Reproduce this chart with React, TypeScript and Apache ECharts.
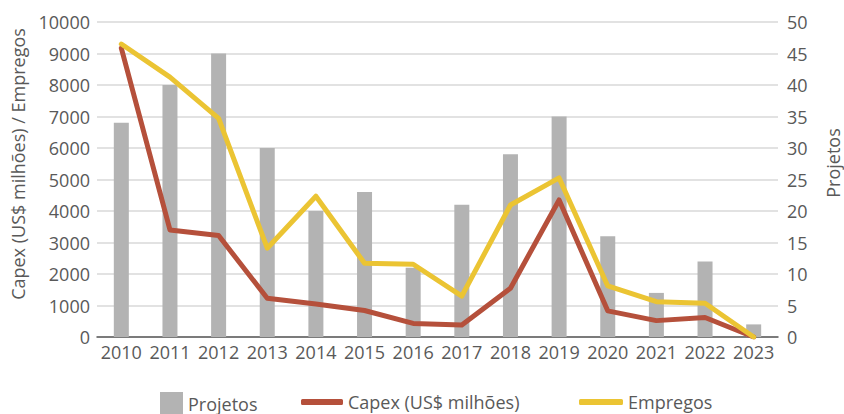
import React, { useEffect, useRef } from "react";
import * as echarts from "echarts";

const years = ["2010","2011","2012","2013","2014","2015","2016","2017","2018","2019","2020","2021","2022","2023"];
const projetos = [34, 40, 45, 30, 20, 23, 11, 21, 29, 35, 16, 7, 12, 2];
const capex = [9170, 3400, 3220, 1230, 1050, 840, 430, 380, 1550, 4350, 830, 520, 620, 0];
const empregos = [9300, 8250, 6940, 2820, 4470, 2340, 2310, 1300, 4190, 5050, 1620, 1120, 1070, 0];

const FONT = "'Open Sans', 'Noto Sans', sans-serif";
const TEXT = "#595959";
const FS = 18;

export default function App() {
  const ref = useRef<HTMLDivElement>(null);
  useEffect(() => {
    if (!ref.current) return;
    const chart = echarts.init(ref.current, null, { renderer: "svg" });
    const legendText = { fontFamily: FONT, fontSize: FS, color: TEXT };
    chart.setOption({
      animation: false,
      textStyle: { fontFamily: FONT, color: TEXT },
      grid: { left: 97, right: 66, top: 22, bottom: 77 },
      legend: [
        {
          data: [{ name: "Projetos", icon: "rect" }],
          left: 160,
          top: 392,
          padding: 0,
          itemWidth: 23,
          itemHeight: 23,
          itemGap: 7,
          textStyle: legendText,
        },
        {
          data: [{ name: "Capex (US$ milhões)", icon: "roundRect" }],
          left: 301,
          top: 393,
          padding: 0,
          itemWidth: 42,
          itemHeight: 6,
          textStyle: legendText,
        },
        {
          data: [{ name: "Empregos", icon: "roundRect" }],
          left: 579,
          top: 393,
          padding: 0,
          itemWidth: 44,
          itemHeight: 6,
          textStyle: legendText,
        },
      ],
      xAxis: {
        type: "category",
        data: years,
        axisTick: { show: false },
        axisLine: { lineStyle: { color: "#595959", width: 1.5 } },
        axisLabel: { fontSize: FS, color: TEXT, fontFamily: FONT, margin: 6, interval: 0 },
      },
      yAxis: [
        {
          type: "value",
          min: 0,
          max: 10000,
          interval: 1000,
          axisLabel: {
            fontSize: FS,
            color: TEXT,
            fontFamily: FONT,
            margin: 7,
            formatter: (v: number) => String(v),
          },
          splitLine: { lineStyle: { color: "#d9d9d9", width: 1.5 } },
          axisLine: { show: false },
          axisTick: { show: false },
        },
        {
          type: "value",
          min: 0,
          max: 50,
          interval: 5,
          axisLabel: { fontSize: FS, color: TEXT, fontFamily: FONT, margin: 9 },
          splitLine: { show: false },
          axisLine: { show: false },
          axisTick: { show: false },
        },
      ],
      graphic: [
        {
          type: "text",
          x: 18,
          y: 164,
          rotation: Math.PI / 2,
          style: {
            text: "Capex (US$ milhões) / Empregos",
            fontFamily: FONT,
            fontSize: FS,
            fill: TEXT,
            align: "center",
            verticalAlign: "middle",
          },
        },
        {
          type: "text",
          x: 833,
          y: 163,
          rotation: Math.PI / 2,
          style: {
            text: "Projetos",
            fontFamily: FONT,
            fontSize: FS,
            fill: TEXT,
            align: "center",
            verticalAlign: "middle",
          },
        },
      ],
      series: [
        {
          name: "Projetos",
          type: "bar",
          yAxisIndex: 1,
          data: projetos,
          barWidth: 15,
          itemStyle: { color: "#b3b3b3" },
        },
        {
          name: "Capex (US$ milhões)",
          type: "line",
          data: capex,
          symbol: "none",
          lineStyle: { color: "#b5503b", width: 5, cap: "round", join: "round" },
          itemStyle: { color: "#b5503b" },
        },
        {
          name: "Empregos",
          type: "line",
          data: empregos,
          symbol: "none",
          lineStyle: { color: "#ebc433", width: 5, cap: "round", join: "round" },
          itemStyle: { color: "#ebc433" },
        },
      ],
    });
    return () => chart.dispose();
  }, []);
  return (
    <div
      ref={ref}
      style={{ position: "fixed", left: 0, top: 0, width: 844, height: 414, background: "#fff" }}
    />
  );
}
